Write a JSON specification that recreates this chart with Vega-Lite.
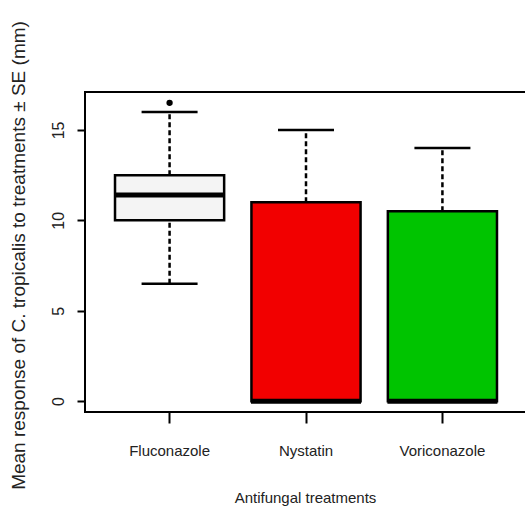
{
  "$schema": "https://vega.github.io/schema/vega-lite/v6.json",
  "width": 441,
  "height": 320,
  "autosize": {"type": "none"},
  "padding": {"left": 85, "top": 92, "right": 0, "bottom": 94},
  "background": "white",
  "config": {
    "view": {"stroke": "black", "strokeWidth": 2},
    "font": "Liberation Sans"
  },
  "data": {
    "values": [
      {"treatment": "Fluconazole", "lower": 6.5, "q1": 10, "median": 11.4, "q3": 12.5, "upper": 16},
      {"treatment": "Nystatin", "lower": 0, "q1": 0, "median": 0, "q3": 11, "upper": 15},
      {"treatment": "Voriconazole", "lower": 0, "q1": 0, "median": 0, "q3": 10.5, "upper": 14}
    ]
  },
  "encoding": {
    "x": {
      "field": "treatment",
      "type": "nominal",
      "sort": ["Fluconazole", "Nystatin", "Voriconazole"],
      "scale": {"type": "band", "paddingInner": 0.2, "paddingOuter": 0.22, "range": [0, 442]},
      "axis": {
        "title": "Antifungal treatments",
        "titleFont": "Liberation Sans",
        "titleFontSize": 15,
        "titleFontWeight": "normal",
        "titleColor": "#222",
        "titleBaseline": "middle",
        "titleY": 85,
        "titleX": 220,
        "labelAngle": 0,
        "labelFont": "Liberation Sans",
        "labelFontSize": 15,
        "labelColor": "#222",
        "labelBaseline": "middle",
        "labelPadding": 27,
        "tickSize": 11,
        "tickWidth": 2,
        "tickColor": "black",
        "domain": false,
        "grid": false
      }
    }
  },
  "layer": [
    {
      "mark": {"type": "rule", "strokeDash": [5, 3], "strokeWidth": 2.5, "color": "black"},
      "encoding": {
        "y": {
          "field": "lower",
          "type": "quantitative",
          "scale": {"domain": [-0.6, 17.1], "nice": false, "zero": false},
          "axis": {
            "title": "Mean response of C. tropicalis to treatments ± SE (mm)",
            "titleFontSize": 19,
            "titleFontWeight": "normal",
            "titleColor": "#222",
            "titleAngle": 270,
            "titleAlign": "center",
            "titleBaseline": "middle",
            "titleX": -67,
            "titleY": 163,
            "values": [0, 5, 10, 15],
            "labelAngle": 270,
            "labelAlign": "center",
            "labelBaseline": "bottom",
            "labelFontSize": 16,
            "labelColor": "#222",
            "labelPadding": 11,
            "tickSize": 8,
            "tickWidth": 2,
            "tickColor": "black",
            "domain": false,
            "grid": false
          }
        },
        "y2": {"field": "q1"}
      }
    },
    {
      "mark": {"type": "rule", "strokeDash": [5, 3], "strokeWidth": 2.5, "color": "black"},
      "encoding": {
        "y": {"field": "q3", "type": "quantitative"},
        "y2": {"field": "upper"}
      }
    },
    {
      "mark": {"type": "tick", "size": 56, "thickness": 2.5, "color": "black", "opacity": 1},
      "encoding": {"y": {"field": "upper", "type": "quantitative"}}
    },
    {
      "mark": {"type": "tick", "size": 56, "thickness": 2.5, "color": "black", "opacity": 1},
      "encoding": {"y": {"field": "lower", "type": "quantitative"}}
    },
    {
      "mark": {"type": "bar", "stroke": "black", "strokeWidth": 2.5, "opacity": 1},
      "encoding": {
        "y": {"field": "q1", "type": "quantitative"},
        "y2": {"field": "q3"},
        "fill": {
          "field": "treatment",
          "type": "nominal",
          "scale": {"domain": ["Fluconazole", "Nystatin", "Voriconazole"], "range": ["#f4f4f4", "#f20000", "#00c400"]},
          "legend": null
        }
      }
    },
    {
      "mark": {"type": "tick", "size": 110, "thickness": 5, "color": "black", "opacity": 1},
      "encoding": {"y": {"field": "median", "type": "quantitative"}}
    },
    {
      "data": {"values": [{"treatment": "Fluconazole", "outlier": 16.5}]},
      "mark": {"type": "point", "filled": true, "size": 40, "color": "black", "opacity": 1},
      "encoding": {"y": {"field": "outlier", "type": "quantitative"}}
    }
  ]
}
